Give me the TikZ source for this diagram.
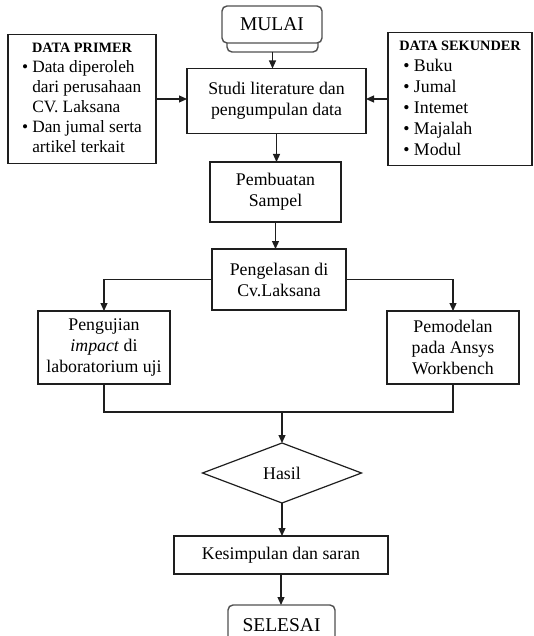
\documentclass[tikz,border=0pt]{standalone}
\usepackage{fontspec}
\setmainfont{Liberation Serif}
\usetikzlibrary{shapes.geometric,arrows.meta,calc}
\definecolor{linec}{HTML}{1E1E1E}
\definecolor{roundc}{HTML}{505050}
\begin{document}
\begin{tikzpicture}[x=1pt,y=-1pt,
  every node/.style={inner sep=0pt,outer sep=0pt},
  txt/.style={font=\fontsize{17.8}{21}\selectfont, align=center},
  stepbox/.style={draw=linec, line width=1.3pt, fill=white, txt},
  termbox/.style={draw=roundc, line width=1.4pt, fill=white, rounded corners=5pt,
    font=\fontsize{19.5}{22}\selectfont},
  decbox/.style={draw=linec, line width=1.2pt, shape=diamond, txt},
  arr/.style={draw=linec, line width=1.2pt, -{Triangle[length=8pt,width=7pt]}},
  ln/.style={draw=linec, line width=1.2pt}
]
\useasboundingbox (0,0) rectangle (534,636);

% MULAI (stacked terminator)
\node[termbox, minimum width=91, minimum height=16] (mulaib) at (272.5,44) {};
\node[termbox, minimum width=100, minimum height=37] (mulai) at (272,24.5) {MULAI};

% Studi literature
\node[stepbox, minimum width=179, minimum height=65] (studi) at (276.5,101)
  {Studi literature dan\\pengumpulan data};

% DATA PRIMER
\node[stepbox, minimum width=148, minimum height=129] (primer) at (82,99)
  {\fontsize{17.3}{20}\selectfont
   \begin{tabular}{@{}c@{}}
   {\fontsize{14.3}{17}\selectfont\bfseries DATA PRIMER}\\
   \begin{tabular}{@{}l@{\hspace{4pt}}l@{}}
   \textbullet & Data diperoleh\\
               & dari perusahaan\\
               & CV. Laksana\\
   \textbullet & Dan jumal serta\\
               & artikel terkait
   \end{tabular}
   \end{tabular}};

% DATA SEKUNDER
\node[stepbox, minimum width=144, minimum height=133] (sekunder) at (460,99)
  {\fontsize{17.8}{21}\selectfont
   \begin{tabular}{@{}l@{}}
   {\fontsize{14.3}{17}\selectfont\bfseries DATA SEKUNDER}\\
   \hspace{4pt}\textbullet\ Buku\\
   \hspace{4pt}\textbullet\ Jumal\\
   \hspace{4pt}\textbullet\ Intemet\\
   \hspace{4pt}\textbullet\ Majalah\\
   \hspace{4pt}\textbullet\ Modul
   \end{tabular}};

% Pembuatan Sampel
\node[stepbox, minimum width=131, minimum height=60] (pembuatan) at (275.5,192)
  {Pembuatan\\Sampel};

% Pengelasan
\node[stepbox, minimum width=134, minimum height=61] (pengelasan) at (279,279.5)
  {Pengelasan di\\Cv.Laksana};

% Pengujian
\node[stepbox, minimum width=132, minimum height=73] (pengujian) at (104,347.5)
  {Pengujian\\\textit{impact} di\\laboratorium uji};

% Pemodelan
\node[stepbox, minimum width=132, minimum height=73] (pemodelan) at (453,347.5)
  {Pemodelan\\pada Ansys\\Workbench};

% Hasil
\node[decbox, minimum width=159, minimum height=60] (hasil) at (282,473) {Hasil};

% Kesimpulan
\node[stepbox, minimum width=214, minimum height=38] (kesimpulan) at (281,555)
  {Kesimpulan dan saran};

% SELESAI
\node[termbox, minimum width=107, minimum height=40] (selesai) at (281.5,625) {SELESAI};

\coordinate (join) at (282,412);

% connectors
\draw[arr] (mulaib.south) -- (mulaib.south |- studi.north);
\draw[arr] (primer.east) -- (primer.east -| studi.west);
\draw[arr] (sekunder.west) -- (sekunder.west -| studi.east);
\draw[arr] (studi.south) -- (studi.south |- pembuatan.north);
\draw[arr] (pembuatan.south) -- (pembuatan.south |- pengelasan.north);
\draw[arr] (pengelasan.west) -| (pengujian.north);
\draw[arr] (pengelasan.east) -| (pemodelan.north);
\draw[ln] (pengujian.south) |- (join) -| (pemodelan.south);
\draw[arr] (join) -- (hasil.north);
\draw[arr] (hasil.south) -- (hasil.south |- kesimpulan.north);
\draw[arr] (kesimpulan.south) -- (kesimpulan.south |- selesai.north);
\end{tikzpicture}
\end{document}
